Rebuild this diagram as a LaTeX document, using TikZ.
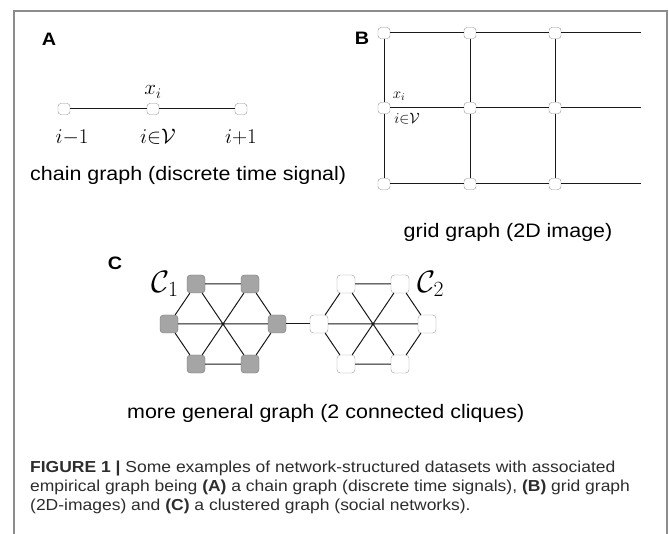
\RequirePackage{fix-cm}
\documentclass[tikz,border=0pt]{standalone}
\usepackage{amsmath}
\usepackage{amssymb}
\usepackage{fontspec}
\setmainfont{Liberation Sans}[FakeStretch=1.1]
\usetikzlibrary{positioning}
\definecolor{framegray}{RGB}{140,140,140}
\definecolor{nodegray}{RGB}{165,165,165}
\definecolor{edgeblack}{RGB}{25,25,25}
\definecolor{capgray}{RGB}{45,45,45}

\begin{document}
\begin{tikzpicture}[x=1pt, y=-1pt,
    vertex/.style={rectangle, draw=gray!85, fill=white, rounded corners=3pt, minimum width=12pt, minimum height=11pt, inner sep=0pt},
    cliquenode/.style={rectangle, draw=gray!80, fill=white, rounded corners=3.5pt, minimum size=18pt, inner sep=0pt},
    shaded/.style={fill=nodegray, draw=gray!90!black},
    plain/.style={},
    edge/.style={draw=edgeblack, line width=1pt},
    panel/.style={inner sep=0pt, font=\fontsize{18}{21}\selectfont\bfseries},
    subcap/.style={inner sep=0pt, font=\fontsize{19.5}{22}\selectfont},
    lbl/.style={inner sep=0pt, font=\fontsize{21}{24}\selectfont},
    smalllbl/.style={inner sep=0pt, font=\fontsize{15}{18}\selectfont}]

    \useasboundingbox (0,0) rectangle (669,534);
    \draw[framegray, line width=1.2pt] (14,534) |- (667,11) -- (667,534);

    \node[panel] (A) at (49,39) {A};
    \node[vertex] (prev) at (64,109) {};
    \node[vertex] (cur) at (153,109) {};
    \node[vertex] (next) at (241,109) {};
    \draw[edge] (prev) -- (cur) -- (next);
    \node[lbl, above=5pt of cur] (xi) {$x_i$};
    \node[lbl] (lprev) at (72,137) {$i{-}1$};
    \node[lbl] (lcur) at (158,137) {$i{\in}\mathcal{V}$};
    \node[lbl] (lnext) at (241,137) {$i{+}1$};
    \node[subcap, anchor=west] (chaincap) at (30,175) {chain graph (discrete time signal)};

    \node[panel] (B) at (362,38) {B};
    \foreach \c/\x in {1/384, 2/470, 3/555}
      \foreach \r/\y in {1/33, 2/108, 3/184}
        \node[vertex] (g\c\r) at (\x,\y) {};
    \foreach \r/\y in {1/33, 2/108, 3/184}
      \coordinate (end\r) at (641,\y);
    \foreach \r in {1,2,3}
      \draw[edge] (g1\r) -- (g2\r) -- (g3\r) -- (end\r);
    \foreach \c in {1,2,3}
      \draw[edge] (g\c1) -- (g\c2) -- (g\c3);
    \node[smalllbl] (gxi) at (399,96) {$x_i$};
    \node[smalllbl] (gi) at (407,119) {$i{\in}\mathcal{V}$};
    \node[subcap] (gridcap) at (508,232) {grid graph (2D image)};

    \node[panel] (C) at (115,263) {C};
    \foreach \k/\cx/\look in {1/223/shaded, 2/373/plain} {
      \node[cliquenode, \look] (c\k-a) at (\cx-27,284) {};
      \node[cliquenode, \look] (c\k-b) at (\cx+27,284) {};
      \node[cliquenode, \look] (c\k-c) at (\cx+54,324) {};
      \node[cliquenode, \look] (c\k-d) at (\cx+27,364) {};
      \node[cliquenode, \look] (c\k-e) at (\cx-27,364) {};
      \node[cliquenode, \look] (c\k-f) at (\cx-54,324) {};
      \draw[edge] (c\k-a) -- (c\k-b) -- (c\k-c) -- (c\k-d) -- (c\k-e) -- (c\k-f) -- (c\k-a);
      \draw[edge] (c\k-a) -- (c\k-d) (c\k-b) -- (c\k-e) (c\k-c) -- (c\k-f);
    }
    \draw[edge] (c1-c) -- (c2-f);
    \node[inner sep=0pt, font=\fontsize{31}{34}\selectfont, left=8pt of c1-a] (C1) {$\mathcal{C}_1$};
    \node[inner sep=0pt, font=\fontsize{31}{34}\selectfont, right=8pt of c2-b] (C2) {$\mathcal{C}_2$};
    \node[subcap, anchor=west] (cliquecap) at (127,413) {more general graph (2 connected cliques)};

    \node[anchor=north west, inner sep=0pt, align=left, text=capgray, font=\fontsize{15.9}{18.8}\selectfont] (caption) at (30,461)
      {\textbf{FIGURE 1 |} Some examples of network-structured datasets with associated\\
       empirical graph being \textbf{(A)} a chain graph (discrete time signals), \textbf{(B)} grid graph\\
       (2D-images) and \textbf{(C)} a clustered graph (social networks).};
\end{tikzpicture}
\end{document}
